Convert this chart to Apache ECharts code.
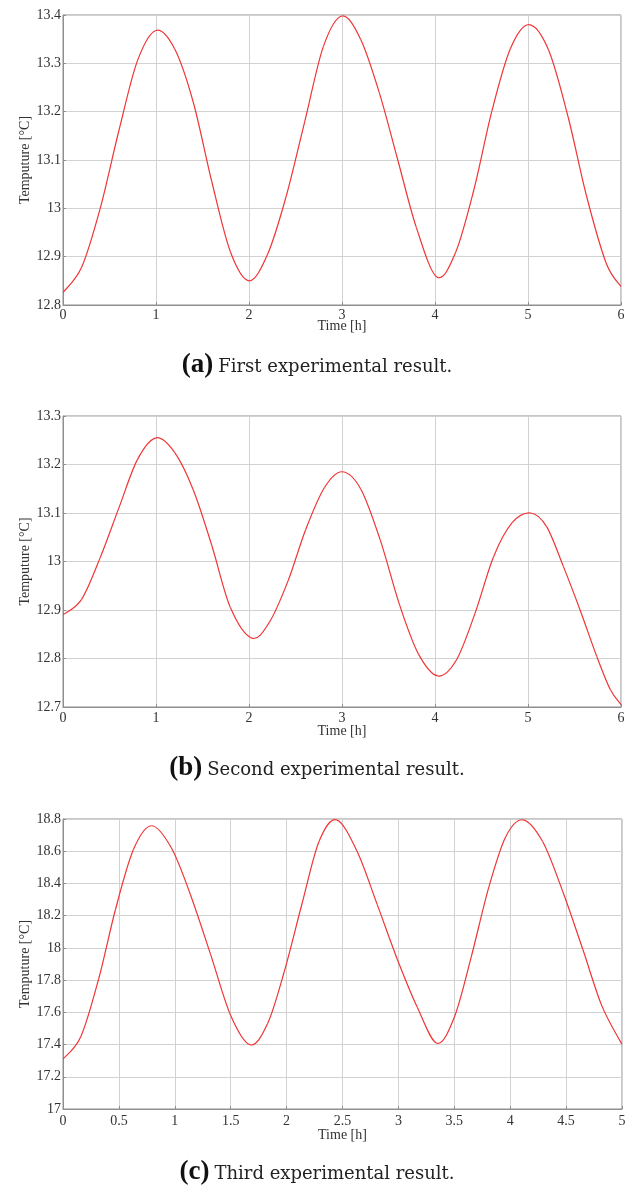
<!DOCTYPE html>
<html>
<head>
<meta charset="utf-8">
<script src="https://cdn.jsdelivr.net/npm/echarts@6/dist/echarts.min.js"></script>
<style>
html,body{margin:0;padding:0;background:#fff;}
#chart{width:634px;height:1186px;}
</style>
</head>
<body>
<div id="chart"></div>
<script>
// ---- Data (time in h, temperature in °C) ----
const timeA = [0, 0.2, 0.4, 0.6, 0.8, 1.0, 1.2, 1.4, 1.6, 1.8, 2.0, 2.2, 2.4, 2.6, 2.8, 3.0, 3.2, 3.4, 3.6, 3.8, 4.02, 4.22, 4.42, 4.61, 4.81, 5.01, 5.22, 5.43, 5.63, 5.84, 6.0];
const tempA = [12.826, 12.878, 13.0, 13.16, 13.305, 13.368, 13.33, 13.22, 13.055, 12.91, 12.85, 12.905, 13.025, 13.18, 13.335, 13.398, 13.35, 13.24, 13.10, 12.96, 12.858, 12.908, 13.04, 13.2, 13.33, 13.38, 13.328, 13.19, 13.025, 12.887, 12.838];

const timeB = [0, 0.2, 0.4, 0.6, 0.8, 1.0, 1.2, 1.4, 1.6, 1.8, 2.03, 2.22, 2.42, 2.61, 2.81, 3.0, 3.2, 3.41, 3.62, 3.82, 4.03, 4.23, 4.43, 4.63, 4.83, 5.03, 5.2, 5.38, 5.56, 5.74, 5.885, 6.0];
const tempB = [12.89, 12.922, 13.008, 13.11, 13.21, 13.255, 13.225, 13.148, 13.033, 12.905, 12.842, 12.875, 12.96, 13.066, 13.152, 13.185, 13.15, 13.045, 12.91, 12.81, 12.764, 12.797, 12.893, 13.01, 13.08, 13.1, 13.072, 12.99, 12.9, 12.804, 12.736, 12.705];

const timeC = [0, 0.16, 0.32, 0.47, 0.63, 0.79, 0.97, 1.14, 1.32, 1.5, 1.675, 1.83, 1.98, 2.14, 2.29, 2.446, 2.63, 2.81, 2.99, 3.17, 3.345, 3.5, 3.65, 3.81, 3.96, 4.113, 4.29, 4.47, 4.65, 4.82, 5.0];
const tempC = [17.31, 17.45, 17.81, 18.24, 18.61, 18.758, 18.62, 18.33, 17.96, 17.58, 17.398, 17.53, 17.855, 18.28, 18.66, 18.795, 18.6, 18.27, 17.93, 17.63, 17.408, 17.57, 17.94, 18.38, 18.69, 18.795, 18.66, 18.35, 17.99, 17.64, 17.4];

const xRanges = [[0, 6, 1], [0, 6, 1], [0, 5, 0.5]];
const yRanges = [[12.8, 13.4, 0.1], [12.7, 13.3, 0.1], [17, 18.8, 0.2]];
const captionTags = ['(a)', '(b)', '(c)'];
const captionTexts = ['First experimental result.', 'Second experimental result.', 'Third experimental result.'];
const xAxisName = 'Time [h]';
const yAxisName = 'Temputure [°C]';

// ---- Layout / style ----
const serif = '"Liberation Serif", "Times New Roman", serif';
const grids = [
  {left: 63, right: 13, top: 15, height: 290},
  {left: 63, right: 13, top: 416, height: 291},
  {left: 63, right: 12, top: 819, height: 290}
];
const labelMargins = [3, 4, 5];
const nameGaps = [14, 17, 19];
const captionTops = [345, 748, 1152];

const pairs = (xs, ys) => xs.map((x, i) => [x, ys[i]]);
const seriesData = [pairs(timeA, tempA), pairs(timeB, tempB), pairs(timeC, tempC)];

const frameColor = '#8f8f8f';
const gridColor = '#d2d2d2';
const textColor = '#333';
const curveColor = '#f03535';

// Smooth curve (Catmull-Rom segments) positioned by the axes' own scales via api.coord
function renderSmoothSegment(params, api) {
  const i = params.dataIndexInside;
  const n = params.dataInsideLength;
  if (i >= n - 1) return null;
  const P = k => api.coord([api.value(0, k), api.value(1, k)]);
  const p0 = P(Math.max(i - 1, 0));
  const p1 = P(i);
  const p2 = P(i + 1);
  const p3 = P(Math.min(i + 2, n - 1));
  return {
    type: 'bezierCurve',
    shape: {
      x1: p1[0], y1: p1[1], x2: p2[0], y2: p2[1],
      cpx1: p1[0] + (p2[0] - p0[0]) / 6, cpy1: p1[1] + (p2[1] - p0[1]) / 6,
      cpx2: p2[0] - (p3[0] - p1[0]) / 6, cpy2: p2[1] - (p3[1] - p1[1]) / 6
    },
    style: {stroke: curveColor, lineWidth: 1.2, fill: null}
  };
}

const option = {
  animation: false,
  backgroundColor: '#fff',
  title: captionTags.map((tag, i) => ({
    left: 'center',
    top: captionTops[i],
    text: '{b|' + tag + '} {t|' + captionTexts[i] + '}',
    textStyle: {
      fontWeight: 'normal',
      rich: {
        b: {fontFamily: serif, fontWeight: 'bold', fontSize: 27, color: '#111', lineHeight: 30},
        t: {fontFamily: '"DejaVu Serif", serif', fontWeight: 'normal', fontSize: 18, color: '#222', lineHeight: 30, padding: [4, 0, 0, 0]}
      }
    }
  })),
  grid: grids.map(g => Object.assign({show: true, borderColor: frameColor, borderWidth: 1, backgroundColor: '#fff'}, g)),
  xAxis: xRanges.map((r, i) => ({
    type: 'value', gridIndex: i, min: r[0], max: r[1], interval: r[2],
    name: xAxisName, nameLocation: 'middle', nameGap: nameGaps[i], nameMoveOverlap: false,
    nameTextStyle: {fontFamily: serif, fontSize: 14, color: textColor},
    axisLine: {show: true, lineStyle: {color: frameColor, width: 1}},
    axisTick: {show: true, inside: true, length: 3, lineStyle: {color: frameColor}},
    axisLabel: {fontFamily: serif, fontSize: 14, color: textColor, margin: labelMargins[i],
      formatter: v => String(parseFloat(v.toFixed(2)))},
    splitLine: {show: true, lineStyle: {color: gridColor, width: 1}}
  })),
  yAxis: yRanges.map((r, i) => ({
    type: 'value', gridIndex: i, min: r[0], max: r[1], interval: r[2],
    name: yAxisName, nameLocation: 'middle', nameGap: 31, nameMoveOverlap: false,
    nameTextStyle: {fontFamily: serif, fontSize: 14, color: textColor},
    axisLine: {show: true, lineStyle: {color: frameColor, width: 1}},
    axisTick: {show: true, inside: true, length: 3, lineStyle: {color: frameColor}},
    axisLabel: {fontFamily: serif, fontSize: 14, color: textColor, margin: 2,
      formatter: v => String(parseFloat(v.toFixed(2)))},
    splitLine: {show: true, lineStyle: {color: gridColor, width: 1}}
  })),
  series: seriesData.map((d, i) => ({
    type: 'custom', xAxisIndex: i, yAxisIndex: i, data: d,
    encode: {x: 0, y: 1}, clip: true,
    renderItem: renderSmoothSegment
  }))
};

const chart = echarts.init(document.getElementById('chart'), null, {renderer: 'canvas'});
chart.setOption(option);
</script>
</body>
</html>
